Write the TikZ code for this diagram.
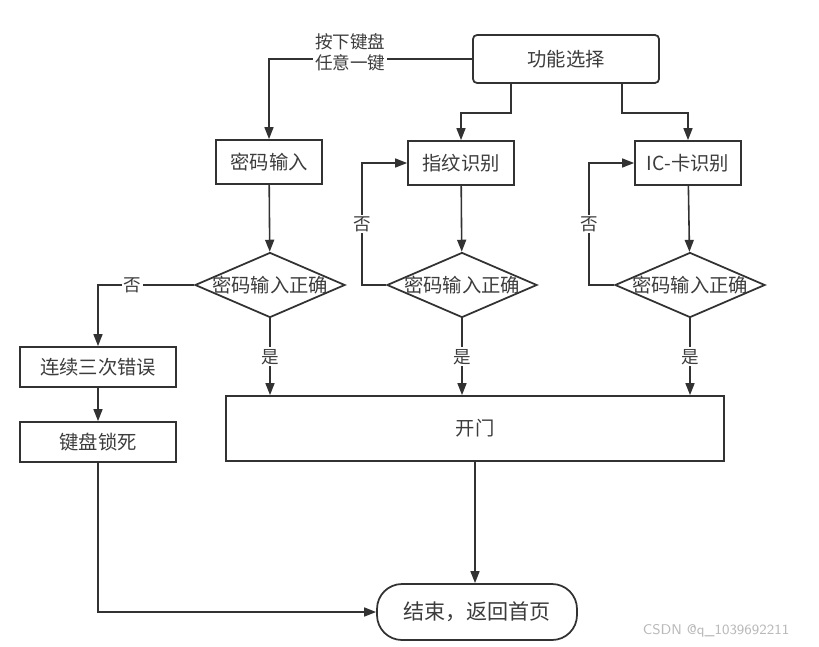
\documentclass[tikz,border=0pt]{standalone}
\usepackage{fontspec}
\newfontfamily\cjk{Noto Sans CJK SC}
\usetikzlibrary{arrows.meta,positioning,shapes.geometric}
\definecolor{linegray}{RGB}{50,50,50}
\definecolor{textgray}{RGB}{60,60,60}
\definecolor{markgray}{RGB}{185,185,185}
\tikzset{process/.style={rectangle,draw=linegray,line width=1pt,text=textgray,font=\cjk\fontsize{11}{13}\selectfont,minimum height=0.88cm,minimum width=2.12cm},
  select/.style={process,rounded corners=0.08cm,minimum width=3.72cm,minimum height=0.96cm},
  decision/.style={diamond,draw=linegray,line width=1pt,minimum width=3.0cm,minimum height=1.3cm,inner sep=0pt,
    label={[text=textgray,font=\cjk\fontsize{11}{13}\selectfont]center:密码输入正确}},
  terminal/.style={process,rounded corners=0.5cm,minimum width=4.0cm,minimum height=1.12cm,font=\cjk\fontsize{12}{14}\selectfont},
  link/.style={draw=linegray,line width=0.9pt,-{Triangle[length=2.4mm,width=1.8mm]}},
    edge-label/.style={fill=white,inner sep=1pt,text=textgray,font=\cjk\fontsize{10}{12}\selectfont}}

\begin{document}
\begin{tikzpicture}
\useasboundingbox (0,0) rectangle (16.38,12.92);

\node[select] (S) at (11.32,11.74) {功能选择};

\node[process] (M) at (5.38,9.68) {密码输入};
\node[process] (Z) at (9.22,9.66) {指纹识别};
\node[process] (K) at (13.76,9.66) {IC-卡识别};

\node[decision] (D1) at (5.40,7.22) {};
\node[decision] (D2) at (9.24,7.22) {};
\node[decision] (D3) at (13.80,7.22) {};

\node[process,minimum width=3.12cm,minimum height=0.8cm] (L) at (1.96,5.58) {连续三次错误};
\node[process,minimum width=3.12cm,minimum height=0.8cm] (J) at (1.96,4.08) {键盘锁死};
\node[process,minimum width=9.96cm,minimum height=1.3cm] (O) at (9.50,4.35) {开门};

\node[terminal] (E) at (9.54,0.68) {结束，返回首页};

\draw[link] (S.west) -| node[edge-label,pos=0.3,yshift=0.14cm,align=center] {按下键盘\\任意一键} (M.north);
\draw[link] ([xshift=-1.10cm]S.south) -- ++(0,-0.58) -| (Z.north);
\draw[link] ([xshift=1.12cm]S.south) -- ++(0,-0.58) -| (K.north);

\draw[link] (M) -- (D1);
\draw[link] (Z) -- (D2);
\draw[link] (K) -- (D3);

\draw[link] (D1.west) -| node[edge-label,pos=0.32] {否} (L.north);
\draw[link] (D2.west) -- ++(-0.48,0) |- node[edge-label,pos=0.25] {否} (Z.west);
\draw[link] (D3.west) -- ++(-0.50,0) |- node[edge-label,pos=0.25] {否} (K.west);

\draw[link] (D1.south) -- node[edge-label] {是} (D1.south |- O.north);
\draw[link] (D2.south) -- node[edge-label] {是} (D2.south |- O.north);
\draw[link] (D3.south) -- node[edge-label] {是} (D3.south |- O.north);

\draw[link] (L) -- (J);
\draw[link] (J.south) |- (E.west);
\draw[link] (O.south) -- (O.south |- E.north);

\node[text=markgray,font=\sffamily\fontsize{8}{10}\selectfont] (W) at (14.32,0.30) {CSDN @q\_1039692211};

\end{tikzpicture}
\end{document}
